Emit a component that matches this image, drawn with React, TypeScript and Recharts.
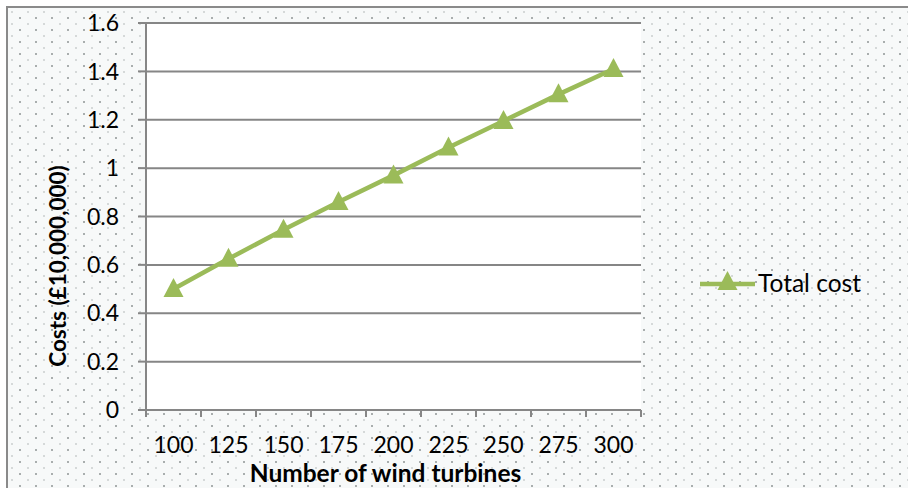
import React from 'react';
import { LineChart, Line, XAxis, YAxis, CartesianGrid, Legend } from 'recharts';

const turbines = ['100', '125', '150', '175', '200', '225', '250', '275', '300'];
const totalCost = [0.5, 0.625, 0.745, 0.86, 0.97, 1.085, 1.195, 1.305, 1.41];
const costTicks = [0, 0.2, 0.4, 0.6, 0.8, 1, 1.2, 1.4, 1.6];

const data = turbines.map((t, i) => ({ turbines: t, total: totalCost[i] }));

const GREEN = '#9bbb59';
const GREY = '#868686';
const FONT = 'Lato, "Open Sans", sans-serif';
const BAND = 55; // width of one category slot in the plot

const triangle = (cx: number, cy: number, key?: any) => (
  <path key={key} d={`M${cx},${cy - 11} L${cx + 10},${cy + 8} L${cx - 10},${cy + 8} Z`} fill={GREEN} />
);

const renderDot = (props: any) => triangle(props.cx, props.cy, `dot-${props.index}`);

const XTick = (props: any) => {
  const { x, y, payload, index } = props;
  return (
    <g>
      <line x1={x - BAND / 2} y1={y} x2={x - BAND / 2} y2={y + 7} stroke={GREY} strokeWidth={2} />
      {index === turbines.length - 1 && (
        <line x1={x + BAND / 2} y1={y} x2={x + BAND / 2} y2={y + 7} stroke={GREY} strokeWidth={2} />
      )}
      <text x={x} y={y + 43} textAnchor="middle" fontSize={23} fontFamily={FONT} fill="#000">
        {payload.value}
      </text>
    </g>
  );
};

const renderLegend = () => (
  <svg width={190} height={30}>
    <line x1={2} y1={15} x2={57} y2={15} stroke={GREEN} strokeWidth={4.5} />
    {triangle(29.5, 13)}
    <text x={60} y={23} fontSize={24.5} fontFamily={FONT} fill="#000">Total cost</text>
  </svg>
);

export default function App() {
  return (
    <div style={{ position: 'absolute', left: 0, top: 0, width: 908, height: 488, background: '#fff', overflow: 'hidden' }}>
      <div
        style={{
          position: 'absolute',
          left: 6,
          top: 6,
          width: 910,
          height: 490,
          borderLeft: '2px solid #8a8a8a',
          borderTop: '2px solid #8a8a8a',
          backgroundColor: '#f7f9f9',
          backgroundImage:
            'radial-gradient(circle, #a9aeae 0.9px, transparent 1.3px), radial-gradient(circle, #d4d8d8 0.7px, transparent 1.1px)',
          backgroundSize: '16px 12px, 16px 12px',
          backgroundPosition: '4px 4px, 12px 10px',
        }}
      />
      <div style={{ position: 'absolute', left: 0, top: 0 }}>
        <LineChart width={908} height={488} data={data} margin={{ top: 23, right: 267, bottom: 18, left: 46 }}>
          <CartesianGrid vertical={false} stroke={GREY} strokeWidth={2} fill="#fff" />
          <XAxis
            dataKey="turbines"
            height={60}
            padding={{ left: BAND / 2, right: BAND / 2 }}
            tickSize={0}
            tickMargin={0}
            tickLine={false}
            axisLine={{ stroke: GREY, strokeWidth: 2 }}
            tick={<XTick />}
            interval={0}
            label={{
              content: (p: any) => {
                const vb = p.viewBox || {};
                return (
                  <text x={vb.x + vb.width / 2 - 8} y={482} textAnchor="middle" fontSize={24.5} fontWeight="bold" fontFamily={FONT} fill="#000">
                    Number of wind turbines
                  </text>
                );
              },
            }}
          />
          <YAxis
            width={100}
            domain={[0, 1.6]}
            ticks={costTicks}
            interval={0}
            tickSize={8}
            tickMargin={19}
            tickLine={{ stroke: GREY, strokeWidth: 2 }}
            axisLine={{ stroke: GREY, strokeWidth: 2 }}
            tick={{ fill: '#000', fontSize: 23, fontFamily: FONT }}
            label={{
              content: () => (
                <text
                  x={57}
                  y={266}
                  transform="rotate(-90 57 266)"
                  textAnchor="middle"
                  dominantBaseline="central"
                  fontSize={22.5}
                  fontWeight="bold"
                  fontFamily={FONT}
                  fill="#000"
                >
                  Costs (£10,000,000)
                </text>
              ),
            }}
          />
          <Legend
            layout="horizontal"
            verticalAlign="middle"
            align="center"
            content={renderLegend}
            wrapperStyle={{ left: 698, top: 269, width: 190, height: 30 }}
          />
          <Line
            dataKey="total"
            name="Total cost"
            stroke={GREEN}
            strokeWidth={4.5}
            dot={renderDot}
            activeDot={false}
            isAnimationActive={false}
          />
        </LineChart>
      </div>
    </div>
  );
}
